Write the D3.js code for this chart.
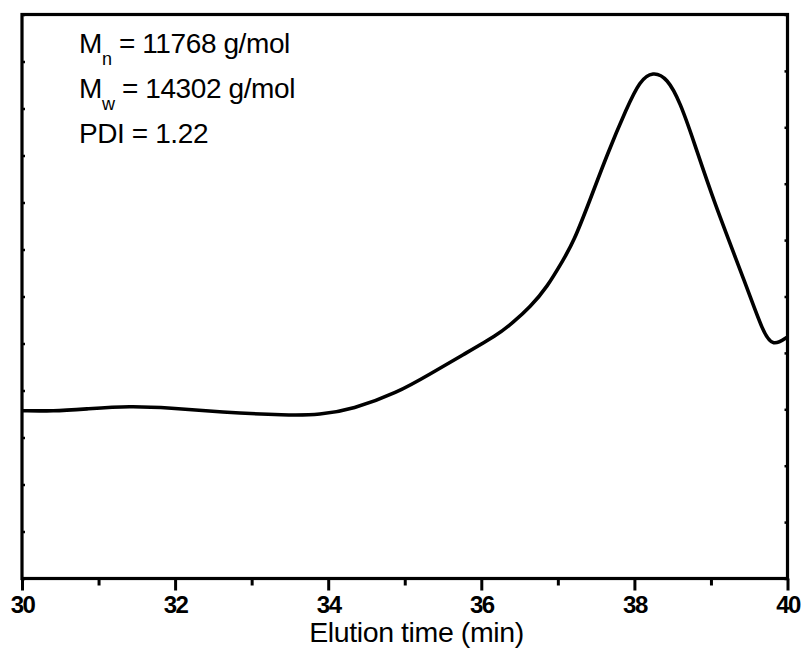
<!DOCTYPE html>
<html>
<head>
<meta charset="utf-8">
<script src="https://cdn.jsdelivr.net/npm/d3@7"></script>
<style>
  html, body { margin: 0; padding: 0; background: #fff; }
  svg { display: block; }
  text { font-family: "Liberation Sans", Arial, sans-serif; fill: #000; }
</style>
</head>
<body>
<svg id="chart" width="807" height="653"></svg>
<script>
// ---- data ----
const elutionTime = [30.00, 30.40, 30.85, 31.41, 31.93, 32.59, 33.46, 33.89, 34.32, 34.90, 35.33, 35.76, 36.21, 36.41, 36.64, 36.86, 37.07, 37.20, 37.42, 37.64, 37.90, 38.07, 38.24, 38.43, 38.60, 38.77, 39.03, 39.47, 39.68, 39.81, 40.00];
const signal      = [3.57, 3.56, 3.61, 3.67, 3.63, 3.54, 3.47, 3.48, 3.60, 3.95, 4.35, 4.76, 5.18, 5.44, 5.78, 6.20, 6.78, 7.14, 8.05, 9.01, 10.01, 10.59, 10.79, 10.65, 10.12, 9.33, 8.05, 6.20, 5.24, 4.93, 5.14];
const xMajorTicks = [30, 32, 34, 36, 38, 40];
const xMinorTicks = [31, 33, 35, 37, 39];
const yLeftTicks  = d3.range(0, 13, 1);
const yRightTicks = d3.range(0, 12.01, 1.2);
const annotations = [
  { main: "M", sub: "n", rest: " = 11768 g/mol" },
  { main: "M", sub: "w", rest: " = 14302 g/mol" },
  { main: "PDI = 1.22", sub: "", rest: "" }
];
const xTitle = "Elution time (min)";

// ---- layout ----
const svg = d3.select("#chart");
const L = 22, R = 787.5, T = 14.5, B = 578.5;
const x = d3.scaleLinear().domain([30, 40]).range([L, R]);
const y = d3.scaleLinear().domain([0, 12]).range([B, T]);

// curve
const line = d3.line()
  .x((d, i) => x(elutionTime[i]))
  .y((d, i) => y(signal[i]))
  .curve(d3.curveBasis);
svg.append("path")
  .attr("d", line(signal))
  .attr("fill", "none")
  .attr("stroke", "#000")
  .attr("stroke-width", 3.6)
  .attr("stroke-linejoin", "round");

// left inner ticks
const gl = svg.append("g").attr("transform", `translate(${L},0)`)
  .call(d3.axisRight(y).tickValues(yLeftTicks).tickSize(3).tickFormat(""));
gl.select(".domain").remove();
gl.selectAll(".tick line").attr("stroke-width", 2.5);

// right inner ticks
const gr = svg.append("g").attr("transform", `translate(${R},0)`)
  .call(d3.axisLeft(y).tickValues(yRightTicks).tickSize(3).tickFormat(""));
gr.select(".domain").remove();
gr.selectAll(".tick line").attr("stroke-width", 2.5);

// bottom minor ticks
const gmin = svg.append("g").attr("transform", `translate(0,${B})`)
  .call(d3.axisBottom(x).tickValues(xMinorTicks).tickSize(7).tickFormat(""));
gmin.select(".domain").remove();
gmin.selectAll(".tick line").attr("stroke-width", 3);

// bottom major ticks + labels
const gmaj = svg.append("g").attr("transform", `translate(0,${B})`)
  .call(d3.axisBottom(x).tickValues(xMajorTicks).tickSize(12).tickPadding(5).tickFormat(d3.format("d")));
gmaj.select(".domain").remove();
gmaj.selectAll(".tick line").attr("stroke-width", 3);
gmaj.selectAll(".tick text")
  .attr("font-family", "'Liberation Sans', Arial, sans-serif")
  .attr("font-size", 24)
  .attr("font-weight", "bold")
  .attr("letter-spacing", "-1.5")
  .attr("fill", "#000");

// frame
svg.append("rect")
  .attr("x", L).attr("y", T)
  .attr("width", R - L).attr("height", B - T)
  .attr("fill", "none").attr("stroke", "#000").attr("stroke-width", 3.2);

// x title
svg.append("text")
  .attr("x", 416.5).attr("y", 642)
  .attr("text-anchor", "middle")
  .attr("font-size", 28.5)
  .attr("letter-spacing", "-0.4")
  .text(xTitle);

// annotations
annotations.forEach((a, i) => {
  const t = svg.append("text")
    .attr("x", 79).attr("y", 53 + i * 45)
    .attr("font-size", 28)
    .attr("letter-spacing", "-0.4");
  t.append("tspan").text(a.main);
  if (a.sub) {
    t.append("tspan").attr("font-size", 18).attr("dy", 12).text(a.sub);
    t.append("tspan").attr("dy", -12).text(a.rest);
  }
});
</script>
</body>
</html>
